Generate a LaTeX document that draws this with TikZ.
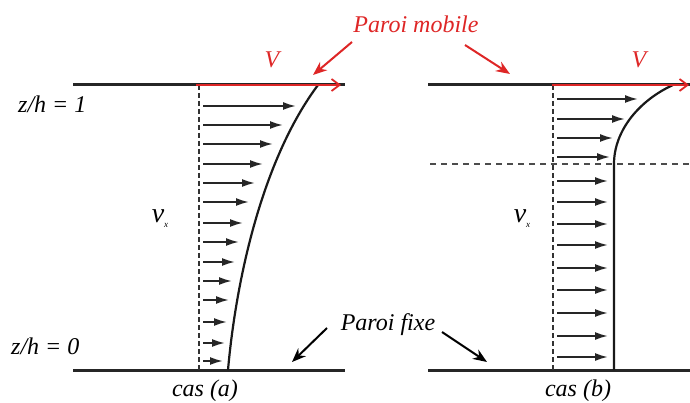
\documentclass[tikz,border=0pt]{standalone}
\usepackage{fontspec}
\setmainfont{Liberation Serif}
\usetikzlibrary{arrows.meta}
\definecolor{wallred}{RGB}{222,38,38}
\tikzset{
  lbl/.style={inner sep=0pt, font=\fontsize{24}{28}\selectfont\itshape},
  wall/.style={line width=3pt, black!85},
  velwall/.style={line width=2.6pt, wallred, -{Straight Barb[length=8pt,width=12pt,line width=1.8pt]}},
  axis/.style={line width=1.8pt, dash pattern=on 5pt off 3pt, black!80},
  hdash/.style={line width=1.5pt, dash pattern=on 6pt off 5pt, black!70},
  vel/.style={line width=1.8pt, black!85, -{Latex[length=13pt,width=8pt]}},
  prof/.style={line width=2.2pt, black!90},
  redpointer/.style={line width=2pt, wallred, -{Stealth[length=14pt,width=11pt]}},
  blkpointer/.style={line width=2pt, black, -{Stealth[length=14pt,width=11pt]}},
}
\begin{document}
\begin{tikzpicture}[x=1pt,y=-1pt]
\useasboundingbox (0,0) rectangle (690,403);

% ---------- case (a) ----------
\coordinate (aTL) at (73,85);  \coordinate (aTR) at (345,85);
\coordinate (aBL) at (73,370); \coordinate (aBR) at (345,370);
\coordinate (aAxT) at (199,85); \coordinate (aAxB) at (199,370);
\coordinate (aVs) at (196,85); \coordinate (aVe) at (341,85);
\draw[wall] (aTL) -- (aTR);
\draw[wall] (aBL) -- (aBR);
\draw[axis] (aAxT) -- (aAxB);
\foreach \yy/\xx [count=\i] in {106/296,125/283,144/273,164/263,183/255,202/249,223/243,242/239,262/235,281/232,300/229,322/227,343/225,361/223}{
  \coordinate (aS\i) at (203,\yy);
  \coordinate (aE\i) at (\xx,\yy);
  \draw[vel] (aS\i) -- (aE\i);
}
\coordinate (aP0) at (228,370);
\coordinate (aP1) at (318,85);
\draw[prof] (aP0) .. controls (236,280) and (262,160) .. (aP1);
\draw[velwall] (aVs) -- (aVe);

% ---------- case (b) ----------
\coordinate (bTL) at (428,85);  \coordinate (bTR) at (690,85);
\coordinate (bBL) at (428,370); \coordinate (bBR) at (690,370);
\coordinate (bAxT) at (553,85); \coordinate (bAxB) at (553,370);
\coordinate (bHL) at (430,164); \coordinate (bHR) at (690,164);
\coordinate (bVs) at (552,85); \coordinate (bVe) at (689,85);
\draw[wall] (bTL) -- (bTR);
\draw[wall] (bBL) -- (bBR);
\draw[axis] (bAxT) -- (bAxB);
\draw[hdash] (bHL) -- (bHR);
\foreach \yy/\xx [count=\i] in {99/638,119/625,138/613,157/610,181/608,202/608,224/608,245/608,268/608,290/608,313/608,336/608,357/608}{
  \coordinate (bS\i) at (557,\yy);
  \coordinate (bE\i) at (\xx,\yy);
  \draw[vel] (bS\i) -- (bE\i);
}
\coordinate (bP0) at (673,85);
\coordinate (bP1) at (614,164);
\coordinate (bP2) at (614,370);
\draw[prof] (bP0) .. controls (640,100) and (614,130) .. (bP1) -- (bP2);
\draw[velwall] (bVs) -- (bVe);

% ---------- labels ----------
\node[lbl, wallred] (mob) at (416,24) {Paroi mobile};
\coordinate (mobA) at (352,42); \coordinate (mobAt) at (313,75);
\coordinate (mobB) at (465,45); \coordinate (mobBt) at (510,74);
\draw[redpointer] (mobA) -- (mobAt);
\draw[redpointer] (mobB) -- (mobBt);

\node[lbl] (fixe) at (388,325) {Paroi fixe};
\coordinate (fixA) at (327,328); \coordinate (fixAt) at (292,362);
\coordinate (fixB) at (442,332); \coordinate (fixBt) at (487,362);
\draw[blkpointer] (fixA) -- (fixAt);
\draw[blkpointer] (fixB) -- (fixBt);

\node[lbl, wallred] (Va) at (272,60) {V};
\node[lbl, wallred] (Vb) at (639,60) {V};

\node[lbl, anchor=west] (z1) at (18,104) {z/h = 1};
\node[lbl, anchor=west] (z0) at (11,346) {z/h = 0};

\node[lbl] (casa) at (205,391) {cas (a)};
\node[lbl] (casb) at (578,391) {cas (b)};

\node[inner sep=0pt] (vxa) at (160,219) {\fontsize{28}{30}\selectfont\itshape v\raisebox{-5pt}{\fontsize{9}{10}\selectfont x}};
\node[inner sep=0pt] (vxb) at (522,219) {\fontsize{28}{30}\selectfont\itshape v\raisebox{-5pt}{\fontsize{9}{10}\selectfont x}};
\end{tikzpicture}
\end{document}
